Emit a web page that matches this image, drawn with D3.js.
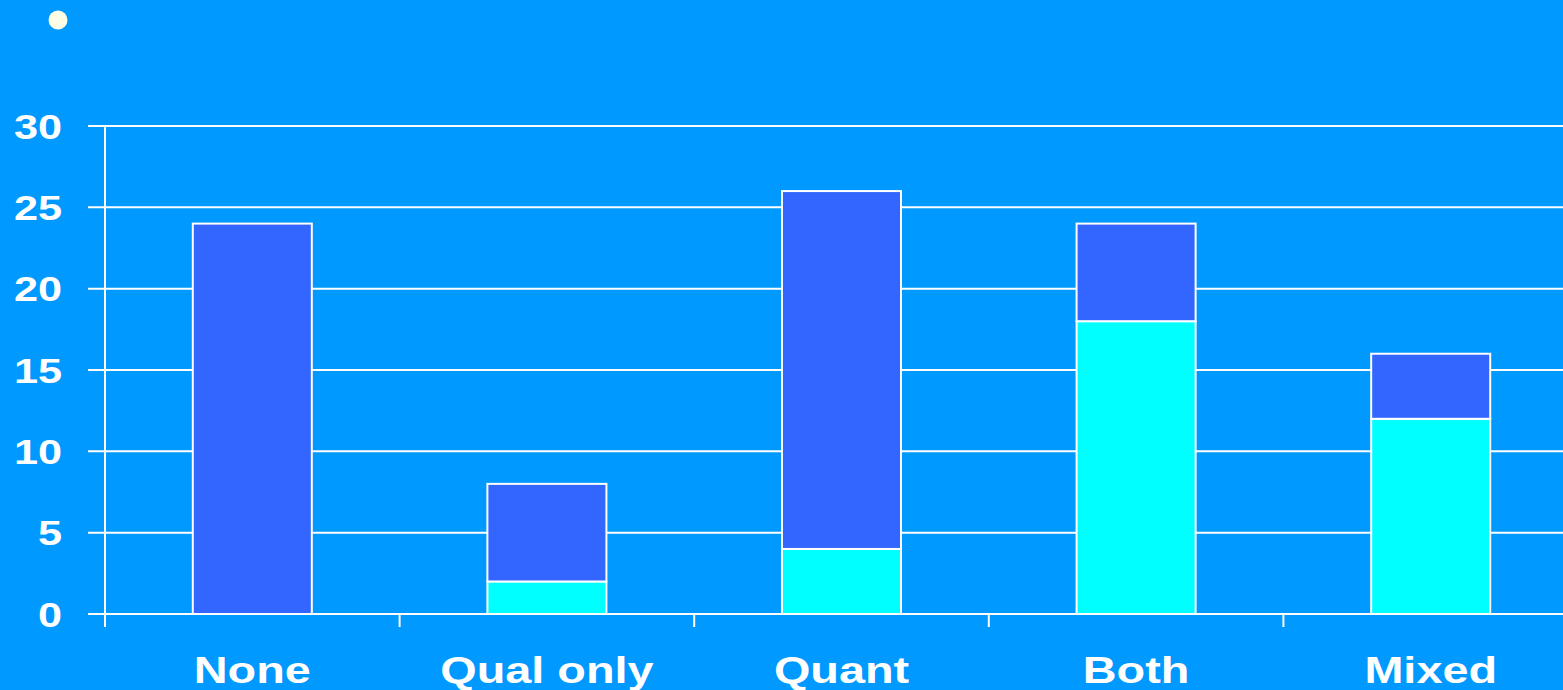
<!DOCTYPE html>
<html>
<head>
<meta charset="utf-8">
<script src="https://cdn.jsdelivr.net/npm/d3@7"></script>
<style>
  html, body { margin: 0; padding: 0; background: #0099FF; overflow: hidden; }
  svg { display: block; }
  text { font-family: "Liberation Sans", Arial, sans-serif; font-weight: bold; fill: #ffffff; }
</style>
</head>
<body>
<svg id="chart" width="1563" height="690"></svg>
<script>
const categories = ["None", "Qual only", "Quant", "Both", "Mixed"];
const lowerValues = [0, 2, 4, 18, 12];   // cyan segment
const upperValues = [24, 6, 22, 6, 4];   // blue segment
const yTicks = [0, 5, 10, 15, 20, 25, 30];
const seriesKeys = ["lower", "upper"];
const seriesColors = ["#00FFFF", "#3366FF"];

(function () {
const W = 1563, H = 690;
const plotLeft = 105, plotTop = 126, plotBottom = 614;
const band = 294.6;

const svg = d3.select("#chart");
svg.append("rect").attr("width", W).attr("height", H).attr("fill", "#0099FF");

const x = d3.scaleBand().domain(categories).range([plotLeft, plotLeft + band * categories.length]).padding(0);
const y = d3.scaleLinear().domain([0, 30]).range([plotBottom, plotTop]);

// gridlines
svg.append("g").selectAll("line").data(yTicks).join("line")
  .attr("x1", 88).attr("x2", W)
  .attr("y1", d => y(d)).attr("y2", d => y(d))
  .attr("stroke", "#ffffff").attr("stroke-width", 2);

// y axis line
svg.append("line").attr("x1", plotLeft).attr("x2", plotLeft).attr("y1", plotTop).attr("y2", plotBottom + 13)
  .attr("stroke", "#ffffff").attr("stroke-width", 2);

// x ticks at band boundaries
const boundaries = categories.map(c => x(c));
svg.append("g").selectAll("line").data(boundaries).join("line")
  .attr("x1", d => d).attr("x2", d => d)
  .attr("y1", plotBottom).attr("y2", plotBottom + 13)
  .attr("stroke", "#ffffff").attr("stroke-width", 2);

// stacked bars
const table = categories.map((c, i) => ({ cat: c, lower: lowerValues[i], upper: upperValues[i] }));
const stacked = d3.stack().keys(seriesKeys)(table);
const barW = x.bandwidth() * 0.404;
svg.append("g").selectAll("g").data(stacked).join("g")
  .attr("fill", (d, i) => seriesColors[i])
  .selectAll("rect").data(d => d.filter(s => s[1] - s[0] > 0)).join("rect")
  .attr("x", d => x(d.data.cat) + (x.bandwidth() - barW) / 2)
  .attr("width", barW)
  .attr("y", d => y(d[1]))
  .attr("height", d => y(d[0]) - y(d[1]))
  .attr("stroke", "#ffffff").attr("stroke-width", 2);

// y labels
svg.append("g").selectAll("text").data(yTicks).join("text")
  .attr("transform", d => `translate(62,${y(d) + 12.5}) scale(1.2,1)`)
  .attr("text-anchor", "end")
  .attr("font-size", 36)
  .text(d => d);

// x labels
svg.append("g").selectAll("text").data(categories).join("text")
  .attr("transform", d => `translate(${x(d) + x.bandwidth() / 2},683) scale(1.3,1)`)
  .attr("text-anchor", "middle")
  .attr("font-size", 36)
  .text(d => d);

// bullet
svg.append("circle").attr("cx", 58).attr("cy", 20).attr("r", 9.5).attr("fill", "#FFFDE6");
})();
</script>
</body>
</html>
